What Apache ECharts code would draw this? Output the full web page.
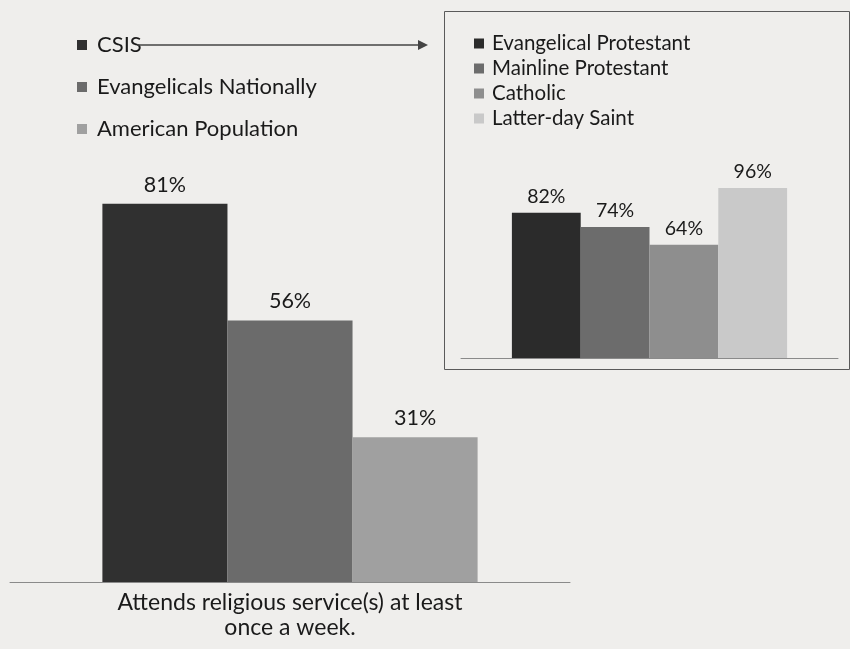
<!DOCTYPE html>
<html>
<head>
<meta charset="utf-8">
<script src="https://cdn.jsdelivr.net/npm/echarts@6/dist/echarts.min.js"></script>
<style>
  html, body { margin: 0; padding: 0; background: #efeeec; }
  #chart { width: 850px; height: 649px; }
</style>
</head>
<body>
<div id="chart"></div>
<script>
// Weekly attendance: CSIS vs evangelicals nationally vs all Americans
const mainCategories = ['Attends religious service(s) at least\nonce a week.'];
const mainSeriesNames = ['CSIS', 'Evangelicals Nationally', 'American Population'];
const mainValues = [81, 56, 31];
const mainColors = ['#303030', '#6b6b6b', '#a0a0a0'];

// CSIS breakdown by tradition
const insetCategories = ['CSIS'];
const insetSeriesNames = ['Evangelical Protestant', 'Mainline Protestant', 'Catholic', 'Latter-day Saint'];
const insetValues = [82, 74, 64, 96];
const insetColors = ['#2b2b2b', '#6c6c6c', '#8e8e8e', '#c9c9c9'];

const FONT = 'Lato';
const textColor = '#1a1a1a';

const series = [];
mainSeriesNames.forEach((name, i) => {
  series.push({
    name: name,
    type: 'bar',
    xAxisIndex: 0,
    yAxisIndex: 0,
    data: [mainValues[i]],
    itemStyle: { color: mainColors[i] },
    barGap: '0%',
    barCategoryGap: '33%',
    label: {
      show: true, position: 'top', distance: 8,
      formatter: '{c}%', fontFamily: FONT, fontSize: 21.5, color: textColor
    }
  });
});
insetSeriesNames.forEach((name, i) => {
  series.push({
    name: name,
    type: 'bar',
    xAxisIndex: 1,
    yAxisIndex: 1,
    data: [insetValues[i]],
    itemStyle: { color: insetColors[i] },
    barGap: '0%',
    barCategoryGap: '27%',
    label: {
      show: true, position: 'top', distance: 6,
      formatter: '{c}%', fontFamily: FONT, fontSize: 19.5, color: textColor
    }
  });
});

const chart = echarts.init(document.getElementById('chart'), null, { renderer: 'canvas' });
chart.setOption({
  backgroundColor: '#efeeec',
  animation: false,
  grid: [
    { left: 10, right: 280, top: 115, bottom: 67 },
    { left: 461, right: 12, top: 181, bottom: 291 }
  ],
  xAxis: [
    {
      type: 'category', gridIndex: 0, data: mainCategories,
      axisLine: { lineStyle: { color: '#8a8a8a', width: 1 } },
      axisTick: { show: false },
      axisLabel: { margin: 8, fontFamily: FONT, fontSize: 23, lineHeight: 25, color: textColor }
    },
    {
      type: 'category', gridIndex: 1, data: insetCategories,
      axisLine: { lineStyle: { color: '#8a8a8a', width: 1 } },
      axisTick: { show: false },
      axisLabel: { show: false }
    }
  ],
  yAxis: [
    { type: 'value', gridIndex: 0, min: 0, max: 100, show: false },
    { type: 'value', gridIndex: 1, min: 0, max: 100, show: false }
  ],
  legend: [
    {
      data: mainSeriesNames,
      orient: 'vertical', left: 77, top: 34, padding: 0,
      icon: 'rect', itemWidth: 10, itemHeight: 10, itemGap: 20,
      textStyle: { fontFamily: FONT, fontSize: 22, lineHeight: 22, color: textColor, padding: [0, 0, 0, 5] }
    },
    {
      data: insetSeriesNames,
      orient: 'vertical', left: 474, top: 33, padding: 0,
      icon: 'rect', itemWidth: 10, itemHeight: 10, itemGap: 4,
      textStyle: { fontFamily: FONT, fontSize: 20.5, lineHeight: 20, color: textColor, padding: [0, 0, 0, 3] }
    }
  ],
  graphic: [
    // frame around the breakdown panel
    {
      type: 'rect', left: 442, top: 9, z: 0,
      shape: { width: 405, height: 358 },
      style: { fill: 'none', stroke: '#5a5a5a', lineWidth: 1 }
    },
    // arrow from the CSIS legend entry to the panel
    {
      type: 'line', z: 10,
      shape: { x1: 137, y1: 45, x2: 420, y2: 45 },
      style: { stroke: '#444', lineWidth: 1.5 }
    },
    {
      type: 'polygon', z: 10,
      shape: { points: [[428, 45], [418, 40], [418, 50]] },
      style: { fill: '#444' }
    }
  ],
  series: series
});
</script>
</body>
</html>
